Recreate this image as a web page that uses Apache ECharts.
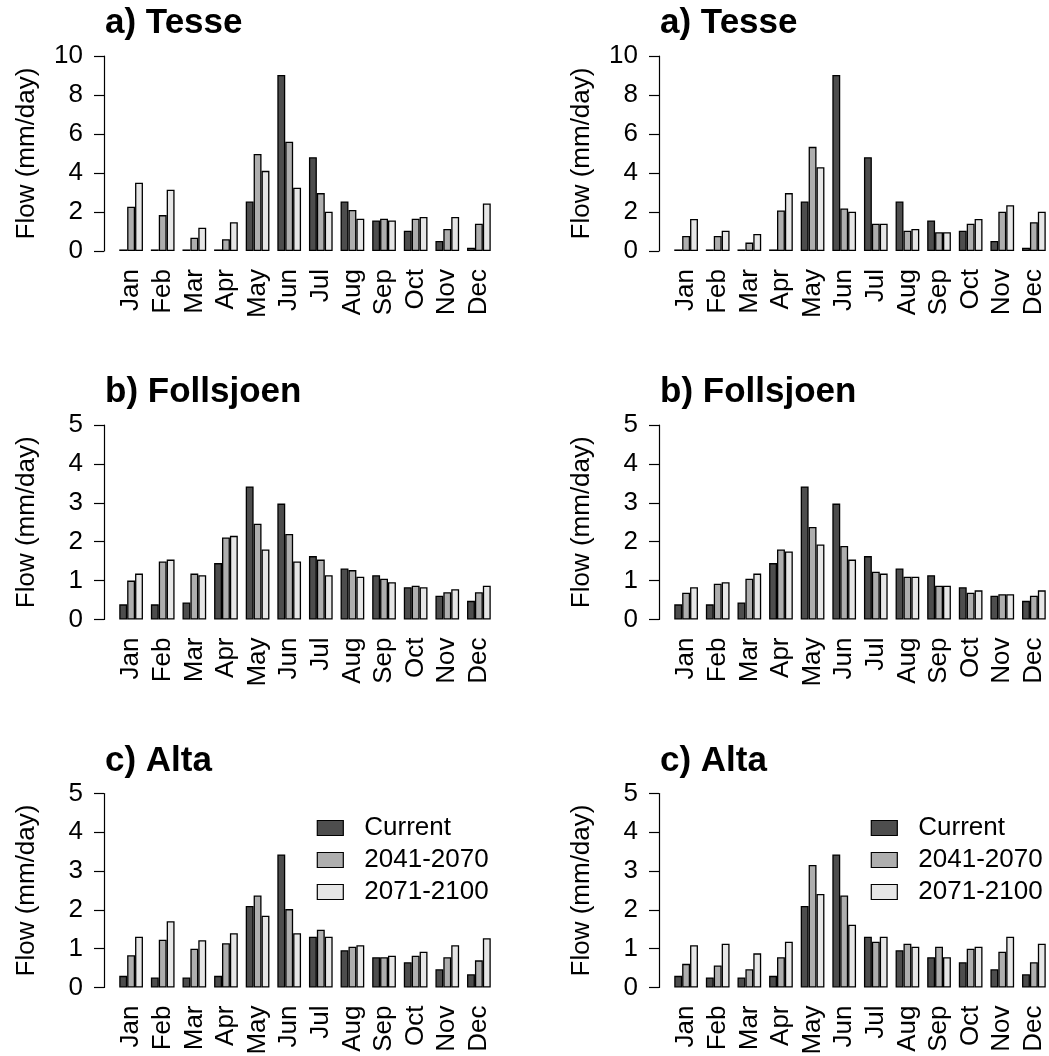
<!DOCTYPE html>
<html>
<head>
<meta charset="utf-8">
<script src="https://cdn.jsdelivr.net/npm/echarts@6/dist/echarts.min.js"></script>
<style>html,body{margin:0;padding:0;background:#fff;}#c{width:1049px;height:1056px;}</style>
</head>
<body>
<div id="c"></div>
<script>
// ---- data ----
const months = ['Jan','Feb','Mar','Apr','May','Jun','Jul','Aug','Sep','Oct','Nov','Dec'];
const seriesNames = ['Current','2041-2070','2071-2100'];

const tesseCurrent     = [0.08,0.08,0.08,0.08,2.54,9.03,4.81,2.54,1.57,1.04,0.51,0.17];
const tesseLeft2041    = [2.27,1.84,0.68,0.60,4.98,5.60,2.97,2.10,1.66,1.66,1.13,1.40];
const tesseLeft2071    = [3.50,3.14,1.19,1.48,4.11,3.24,2.01,1.66,1.57,1.74,1.74,2.44];
const tesseRight2041   = [0.77,0.77,0.43,2.08,5.34,2.18,1.40,1.04,0.96,1.40,2.01,1.48];
const tesseRight2071   = [1.64,1.04,0.87,2.97,4.30,2.01,1.40,1.13,0.96,1.64,2.35,2.01];

const follsCurrent     = [0.39,0.39,0.44,1.45,3.42,2.98,1.63,1.31,1.14,0.83,0.61,0.48];
const follsLeft2041    = [1.00,1.49,1.18,2.11,2.46,2.20,1.54,1.27,1.05,0.87,0.70,0.70];
const follsLeft2071    = [1.18,1.54,1.14,2.15,1.80,1.49,1.14,1.10,0.96,0.83,0.78,0.87];
const follsRight2041   = [0.69,0.92,1.05,1.80,2.38,1.89,1.23,1.10,0.87,0.69,0.65,0.61];
const follsRight2071   = [0.83,0.96,1.18,1.75,1.93,1.54,1.18,1.10,0.87,0.75,0.65,0.75];

const altaCurrent      = [0.30,0.26,0.26,0.30,2.10,3.43,1.31,0.96,0.78,0.65,0.47,0.34];
const altaLeft2041     = [0.83,1.23,1.00,1.14,2.37,2.02,1.49,1.05,0.78,0.82,0.78,0.70];
const altaLeft2071     = [1.31,1.71,1.22,1.40,1.85,1.40,1.31,1.09,0.82,0.92,1.09,1.27];
const altaRight2041    = [0.61,0.57,0.47,0.78,3.16,2.37,1.18,1.13,1.05,1.00,0.92,0.65];
const altaRight2071    = [1.09,1.13,0.88,1.18,2.41,1.62,1.31,1.05,0.78,1.05,1.31,1.13];

const titles = ['a) Tesse','b) Follsjoen','c) Alta'];
const yMax = [10,5,5];
const yStep = [2,1,1];
const yTitle = 'Flow (mm/day)';

// ---- layout ----
const colAxisX = [104, 659];
const rowTop = [56, 425, 793.5];
const rowH = [195, 194.5, 194];
const gridOffset = 11.3;
const gridW = 379.4;
const colors = ['#4D4D4D','#AEAEAE','#E6E6E6'];
const font = 'Liberation Sans, Arial, sans-serif';

const panelData = [
  [[tesseCurrent, tesseLeft2041, tesseLeft2071], [tesseCurrent, tesseRight2041, tesseRight2071]],
  [[follsCurrent, follsLeft2041, follsLeft2071], [follsCurrent, follsRight2041, follsRight2071]],
  [[altaCurrent, altaLeft2041, altaLeft2071], [altaCurrent, altaRight2041, altaRight2071]]
];

const grid = [], xAxis = [], yAxis = [], series = [], title = [];
let idx = 0;
for (let r = 0; r < 3; r++) {
  for (let c = 0; c < 2; c++) {
    grid.push({left: colAxisX[c] + gridOffset, top: rowTop[r], width: gridW, height: rowH[r], outerBoundsMode: 'none', containLabel: false});
    xAxis.push({
      type: 'category', gridIndex: idx, data: months,
      axisLine: {show: false}, axisTick: {show: false},
      axisLabel: {interval: 0, rotate: 90, margin: 18, fontSize: 26, fontFamily: font, color: '#000'}
    });
    yAxis.push({
      type: 'value', gridIndex: idx, min: 0, max: yMax[r], interval: yStep[r],
      offset: gridOffset,
      axisLine: {show: true, lineStyle: {color: '#000', width: 1.2}},
      axisTick: {show: true, length: 10, lineStyle: {color: '#000', width: 1.2}},
      splitLine: {show: false},
      axisLabel: {margin: 21, fontSize: 26, fontFamily: font, color: '#000'},
      name: yTitle, nameLocation: 'middle', nameRotate: 90, nameGap: 64,
      nameTextStyle: {fontSize: 26, fontFamily: font, color: '#000'}
    });
    title.push({
      text: titles[r], left: colAxisX[c] + 1, top: rowTop[r] - 50, padding: 0,
      textStyle: {fontSize: 35, fontWeight: 'bold', fontFamily: font, color: '#000'}
    });
    const d = panelData[r][c];
    for (let s = 0; s < 3; s++) {
      series.push({
        type: 'bar', name: seriesNames[s], xAxisIndex: idx, yAxisIndex: idx,
        data: d[s], barGap: '0%', barCategoryGap: '25%',
        itemStyle: {color: colors[s], borderColor: '#000', borderWidth: 1.3},
        emphasis: {disabled: true}, silent: true, animation: false
      });
    }
    idx++;
  }
}

const legendCommon = {
  orient: 'vertical', padding: 0, itemGap: 6, itemWidth: 26, itemHeight: 15,
  icon: 'rect', selectedMode: false, data: seriesNames,
  itemStyle: {borderColor: '#000', borderWidth: 1.2},
  textStyle: {fontSize: 26, fontFamily: font, color: '#000', padding: [0, 0, 0, 16]}
};
const legend = [
  Object.assign({}, legendCommon, {left: 316.7, top: 815}),
  Object.assign({}, legendCommon, {left: 870.7, top: 815})
];

const chart = echarts.init(document.getElementById('c'), null, {renderer: 'canvas'});
chart.setOption({animation: false, backgroundColor: '#fff', title, grid, xAxis, yAxis, series, legend});
</script>
</body>
</html>
